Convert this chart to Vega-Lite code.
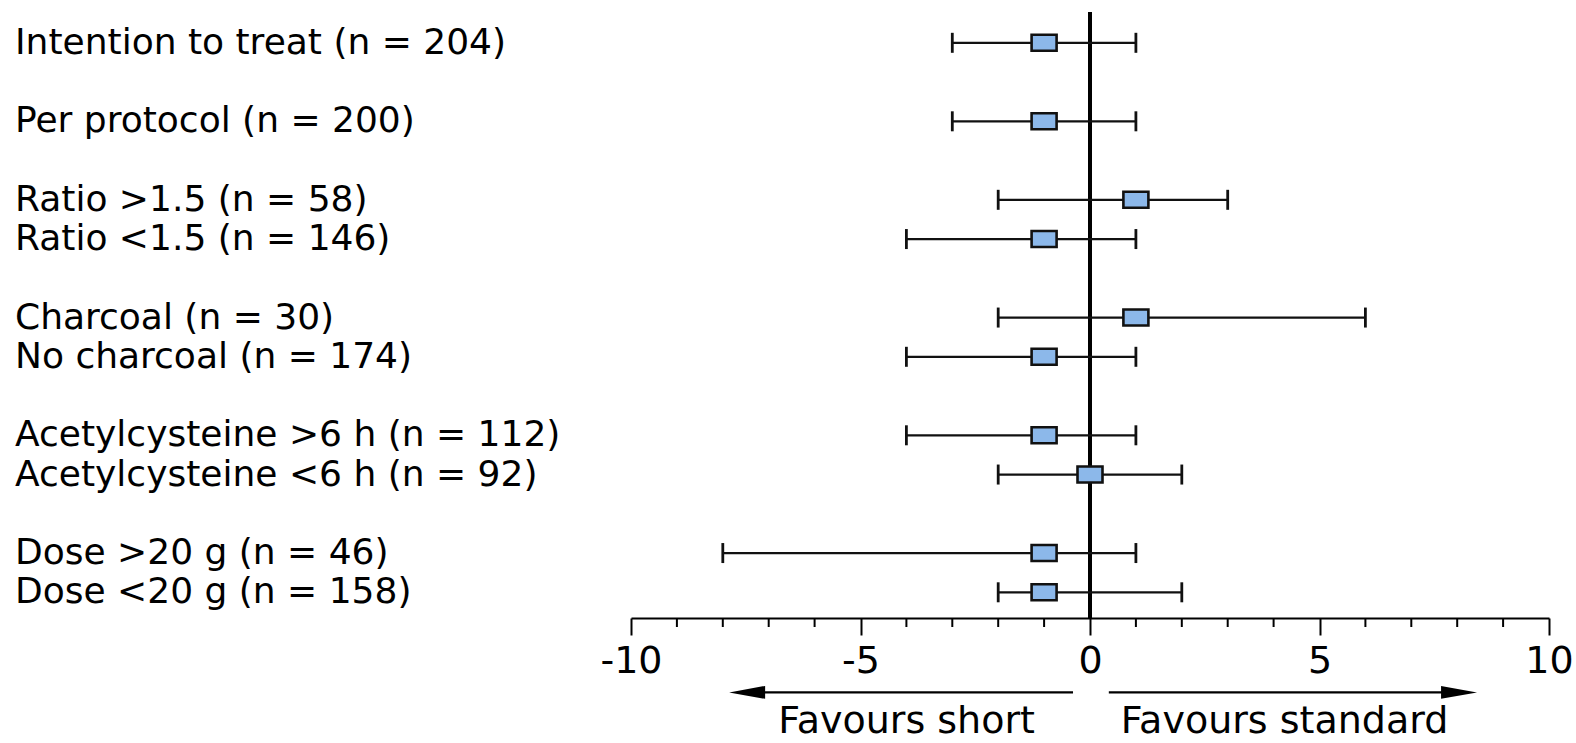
{
  "$schema": "https://vega.github.io/schema/vega-lite/v6.json",
  "width": 918,
  "height": 606,
  "autosize": {"type": "none"},
  "padding": {"left": 631, "top": 12, "right": 27, "bottom": 125},
  "background": "white",
  "config": {
    "view": {"stroke": null},
    "font": "DejaVu Sans",
    "axisY": {"disable": true},
    "axisX": {
      "title": null,
      "grid": false,
      "tickCount": 5,
      "domainColor": "black",
      "domainWidth": 2,
      "tickColor": "black",
      "tickWidth": 2,
      "tickSize": 17,
      "labelFontSize": 38,
      "labelColor": "black",
      "labelPadding": 7,
      "labelFont": "DejaVu Sans",
      "labelFlush": false,
      "labelExpr": "'' + datum.value"
    }
  },
  "datasets": {
    "groups": [
      {"label": "Intention to treat (n = 204)", "row": 0, "est": -1, "lo": -3, "hi": 1},
      {"label": "Per protocol (n = 200)", "row": 2, "est": -1, "lo": -3, "hi": 1},
      {"label": "Ratio >1.5 (n = 58)", "row": 4, "est": 1, "lo": -2, "hi": 3},
      {"label": "Ratio <1.5 (n = 146)", "row": 5, "est": -1, "lo": -4, "hi": 1},
      {"label": "Charcoal (n = 30)", "row": 7, "est": 1, "lo": -2, "hi": 6},
      {"label": "No charcoal (n = 174)", "row": 8, "est": -1, "lo": -4, "hi": 1},
      {"label": "Acetylcysteine >6 h (n = 112)", "row": 10, "est": -1, "lo": -4, "hi": 1},
      {"label": "Acetylcysteine <6 h (n = 92)", "row": 11, "est": 0, "lo": -2, "hi": 2},
      {"label": "Dose >20 g (n = 46)", "row": 13, "est": -1, "lo": -8, "hi": 1},
      {"label": "Dose <20 g (n = 158)", "row": 14, "est": -1, "lo": -2, "hi": 2}
    ],
    "minor": [
      {"v": -9}, {"v": -8}, {"v": -7}, {"v": -6},
      {"v": -4}, {"v": -3}, {"v": -2}, {"v": -1},
      {"v": 1}, {"v": 2}, {"v": 3}, {"v": 4},
      {"v": 6}, {"v": 7}, {"v": 8}, {"v": 9}
    ],
    "arrows": [
      {"dir": "left", "from": -0.37, "to": -7.47, "y": 16.55, "note": "Favours short", "nx": -1.2, "ny": 17.58},
      {"dir": "right", "from": 0.41, "to": 8.04, "y": 16.55, "note": "Favours standard", "nx": 0.67, "ny": 17.58}
    ]
  },
  "layer": [
    {
      "data": {"name": "minor"},
      "mark": {"type": "rule", "color": "black", "strokeWidth": 2},
      "encoding": {
        "x": {"field": "v", "type": "quantitative", "scale": {"domain": [-10, 10]}},
        "y": {"datum": 14.655, "type": "quantitative", "scale": {"domain": [-0.785, 14.655], "reverse": true}},
        "y2": {"datum": 14.885}
      }
    },
    {
      "data": {"name": "groups"},
      "mark": {"type": "rule", "color": "black", "strokeWidth": 3},
      "encoding": {
        "x": {"datum": 0, "type": "quantitative", "scale": {"domain": [-10, 10]}},
        "y": {"datum": -0.785, "type": "quantitative", "scale": {"domain": [-0.785, 14.655], "reverse": true}},
        "y2": {"datum": 14.655}
      }
    },
    {
      "data": {"name": "groups"},
      "mark": {"type": "rule", "color": "#111", "strokeWidth": 2.2},
      "encoding": {
        "x": {"field": "lo", "type": "quantitative", "scale": {"domain": [-10, 10]}},
        "x2": {"field": "hi"},
        "y": {"field": "row", "type": "quantitative", "scale": {"domain": [-0.785, 14.655], "reverse": true}}
      }
    },
    {
      "data": {"name": "groups"},
      "mark": {"type": "tick", "orient": "vertical", "color": "#111", "size": 20, "thickness": 2.8, "opacity": 1},
      "encoding": {
        "x": {"field": "lo", "type": "quantitative", "scale": {"domain": [-10, 10]}},
        "y": {"field": "row", "type": "quantitative", "scale": {"domain": [-0.785, 14.655], "reverse": true}}
      }
    },
    {
      "data": {"name": "groups"},
      "mark": {"type": "tick", "orient": "vertical", "color": "#111", "size": 20, "thickness": 2.8, "opacity": 1},
      "encoding": {
        "x": {"field": "hi", "type": "quantitative", "scale": {"domain": [-10, 10]}},
        "y": {"field": "row", "type": "quantitative", "scale": {"domain": [-0.785, 14.655], "reverse": true}}
      }
    },
    {
      "data": {"name": "groups"},
      "mark": {"type": "point", "filled": true, "shape": "M-1,-0.64H1V0.64H-1Z", "size": 625, "fill": "#8CB8EA", "stroke": "#111", "strokeWidth": 2.6, "opacity": 1},
      "encoding": {
        "x": {"field": "est", "type": "quantitative", "scale": {"domain": [-10, 10]}},
        "y": {"field": "row", "type": "quantitative", "scale": {"domain": [-0.785, 14.655], "reverse": true}}
      }
    },
    {
      "data": {"name": "groups"},
      "mark": {"type": "text", "align": "left", "baseline": "middle", "fontSize": 36, "dx": -616, "color": "black"},
      "encoding": {
        "x": {"datum": -10, "type": "quantitative", "scale": {"domain": [-10, 10]}},
        "y": {"field": "row", "type": "quantitative", "scale": {"domain": [-0.785, 14.655], "reverse": true}},
        "text": {"field": "label"}
      }
    },
    {
      "data": {"name": "arrows"},
      "mark": {"type": "rule", "color": "black", "strokeWidth": 2.2},
      "encoding": {
        "x": {"field": "from", "type": "quantitative", "scale": {"domain": [-10, 10]}},
        "x2": {"field": "to"},
        "y": {"field": "y", "type": "quantitative", "scale": {"domain": [-0.785, 14.655], "reverse": true}}
      }
    },
    {
      "data": {"name": "arrows"},
      "transform": [{"filter": "datum.dir == 'left'"}],
      "mark": {"type": "point", "filled": true, "shape": "M-1,0L1,-0.36L1,0.36Z", "size": 1296, "color": "black", "opacity": 1},
      "encoding": {
        "x": {"field": "to", "type": "quantitative", "scale": {"domain": [-10, 10]}},
        "y": {"field": "y", "type": "quantitative", "scale": {"domain": [-0.785, 14.655], "reverse": true}}
      }
    },
    {
      "data": {"name": "arrows"},
      "transform": [{"filter": "datum.dir == 'right'"}],
      "mark": {"type": "point", "filled": true, "shape": "M1,0L-1,-0.36L-1,0.36Z", "size": 1296, "color": "black", "opacity": 1},
      "encoding": {
        "x": {"field": "to", "type": "quantitative", "scale": {"domain": [-10, 10]}},
        "y": {"field": "y", "type": "quantitative", "scale": {"domain": [-0.785, 14.655], "reverse": true}}
      }
    },
    {
      "data": {"name": "arrows"},
      "transform": [{"filter": "datum.dir == 'left'"}],
      "mark": {"type": "text", "align": "right", "baseline": "alphabetic", "fontSize": 38, "color": "black"},
      "encoding": {
        "x": {"field": "nx", "type": "quantitative", "scale": {"domain": [-10, 10]}},
        "y": {"field": "ny", "type": "quantitative", "scale": {"domain": [-0.785, 14.655], "reverse": true}},
        "text": {"field": "note"}
      }
    },
    {
      "data": {"name": "arrows"},
      "transform": [{"filter": "datum.dir == 'right'"}],
      "mark": {"type": "text", "align": "left", "baseline": "alphabetic", "fontSize": 38, "color": "black"},
      "encoding": {
        "x": {"field": "nx", "type": "quantitative", "scale": {"domain": [-10, 10]}},
        "y": {"field": "ny", "type": "quantitative", "scale": {"domain": [-0.785, 14.655], "reverse": true}},
        "text": {"field": "note"}
      }
    }
  ]
}
